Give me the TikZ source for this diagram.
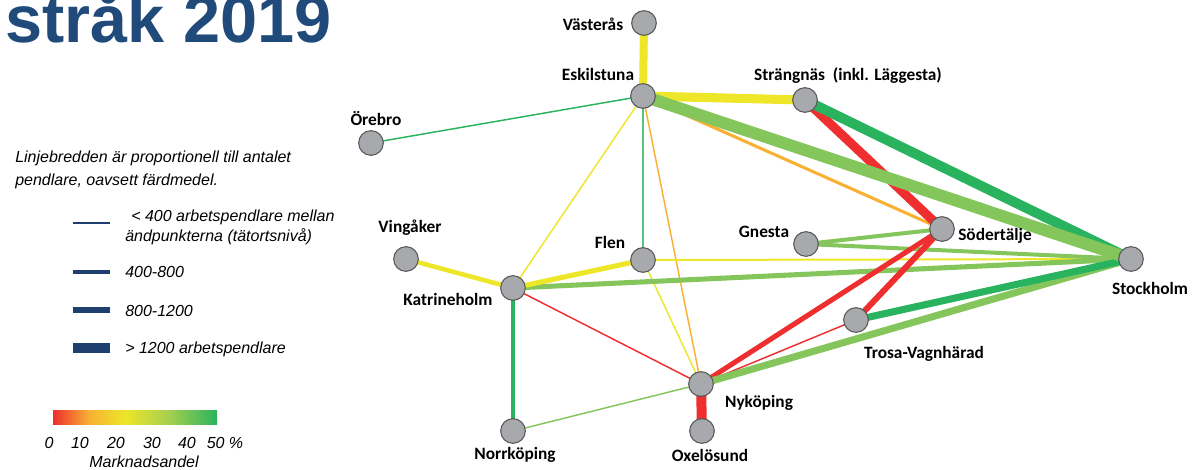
\documentclass[tikz,border=0pt]{standalone}
\usepackage{fontspec}
\setmainfont{Carlito}
\newfontfamily\arialfont{Liberation Sans}
\usetikzlibrary{backgrounds}
\definecolor{titleblue}{HTML}{1F4A7A}
\definecolor{legblue}{HTML}{1F3F6E}
\definecolor{cred}{HTML}{EE2E2F}
\definecolor{corange}{HTML}{F8B133}
\definecolor{cyellow}{HTML}{EDE629}
\definecolor{cmgreen}{HTML}{A8D04E}
\definecolor{clgreen}{HTML}{84C55C}
\definecolor{cgreen}{HTML}{2AB35E}
\definecolor{cnode}{HTML}{A7A9AC}
% TikZ fits the middle half (25bp to 75bp) of a shading to the path
\pgfdeclarehorizontalshading{andel}{100bp}{color(0bp)=(cred); color(25bp)=(cred); color(36bp)=(corange); color(47bp)=(cyellow); color(60bp)=(cmgreen); color(75bp)=(cgreen); color(100bp)=(cgreen)}

\begin{document}
\begin{tikzpicture}[x=0.75pt,y=-0.75pt,
        every node/.style={font=\bfseries\fontsize{13}{15}\selectfont},
        city/.style={circle,draw=black!65,fill=cnode,line width=0.8pt,minimum size=18.5pt,inner sep=0pt},
        legtext/.style={font=\arialfont\itshape\fontsize{12}{14}\selectfont,anchor=west,inner sep=0pt},
        scaletext/.style={font=\arialfont\itshape\fontsize{12}{14}\selectfont,inner sep=0pt}]
    \useasboundingbox (0,0) rectangle (1193,469);

    % title, cut at the top
    \node[anchor=base west,inner sep=0pt,text=titleblue,font=\arialfont\bfseries\fontsize{50}{50}\selectfont] (title) at (5,42) {stråk 2019};

    % towns
    \node[city] (vas) at (644,23) {};
    \node[city] (esk) at (643,96) {};
    \node[city] (str) at (805,100) {};
    \node[city] (ore) at (371,143) {};
    \node[city] (sod) at (942,229) {};
    \node[city] (gne) at (806,244) {};
    \node[city] (sto) at (1131,259) {};
    \node[city] (vin) at (406,259) {};
    \node[city] (fle) at (643,260) {};
    \node[city] (kat) at (513,288) {};
    \node[city] (tro) at (856,320) {};
    \node[city] (nyk) at (701,384) {};
    \node[city] (oxe) at (702,431) {};
    \node[city] (nor) at (513,431) {};

    \node (lvas) at (593,24) {Västerås};
    \node (lesk) at (598,74) {Eskilstuna};
    \node (lstr) at (848,76) {Strängnäs~ (inkl. Läggesta)};
    \node (lore) at (376,119) {Örebro};
    \node (lgne) at (764,232) {Gnesta};
    \node (lsod) at (995,236) {Södertälje};
    \node (lsto) at (1150,288) {Stockholm};
    \node (lvin) at (410,228) {Vingåker};
    \node (lfle) at (610,242) {Flen};
    \node (lkat) at (448,299) {Katrineholm};
    \node (ltro) at (924,354) {Trosa-Vagnhärad};
    \node (lnyk) at (759,403) {Nyköping};
    \node (loxe) at (710,455) {Oxelösund};
    \node (lnor) at (515,455) {Norrköping};

    % commuter links, thin ones first
    \begin{scope}[on background layer]
        \draw[cgreen, line width=1.1pt] (esk.center) -- (ore.center);
        \draw[cyellow, line width=1.1pt] (esk.center) -- (kat.center);
        \draw[cgreen!80, line width=0.9pt] (esk.center) -- (fle.center);
        \draw[corange, line width=1.1pt] (esk.center) -- (nyk.center);
        \draw[cyellow, line width=1.1pt] (fle.center) -- (nyk.center);
        \draw[cred, line width=1.1pt] (kat.center) -- (nyk.center);
        \draw[cred, line width=1.1pt] (nyk.center) -- (tro.center);
        \draw[clgreen, line width=1.1pt] (nyk.center) -- (nor.center);
        \draw[cyellow, line width=1.5pt] (fle.center) -- (sto.center);
        \draw[corange, line width=2.3pt] (esk.center) -- (sod.center);
        \draw[cgreen, line width=2.3pt] (kat.center) -- (nor.center);
        \draw[clgreen, line width=3pt] (gne.center) -- (sod.center);
        \draw[clgreen, line width=3pt] (gne.center) -- (sto.center);
        \draw[cyellow, line width=3.4pt] (vin.center) -- (kat.center);
        \draw[clgreen, line width=3.8pt] (kat.center) -- (sto.center);
        \draw[cyellow, line width=3.8pt] (kat.center) -- (fle.center);
        \draw[cred, line width=3.8pt] (nyk.center) -- (sod.center);
        \draw[cred, line width=4.5pt] (tro.center) -- (sod.center);
        \draw[clgreen, line width=5.3pt] (nyk.center) -- (sto.center);
        \draw[cgreen, line width=5.3pt] (tro.center) -- (sto.center);
        \draw[cred, line width=7.5pt] (nyk.center) -- (oxe.center);
        \draw[cyellow, line width=6pt] (vas.center) -- (esk.center);
        \draw[cyellow, line width=6.8pt] (esk.center) -- (str.center);
        \draw[cred, line width=6.8pt] (str.center) -- (sod.center);
        \draw[cgreen, line width=7.5pt] (str.center) -- (sto.center);
        \draw[clgreen, line width=9pt] (esk.center) -- (sto.center);
    \end{scope}

    % legend
    \node[legtext] (leg1) at (15,158) {Linjebredden är proportionell till antalet};
    \node[legtext] (leg2) at (15,181) {pendlare, oavsett färdmedel.};
    \draw[legblue, line width=1pt] (73,223) -- (110,223);
    \draw[legblue, line width=2.5pt] (73,272) -- (110,272);
    \draw[legblue, line width=4pt] (73,310) -- (110,310);
    \draw[legblue, line width=7.5pt] (73,348) -- (110,348);
    \node[legtext] (w1a) at (131,217) {< 400 arbetspendlare mellan};
    \node[legtext] (w1b) at (125,237) {ändpunkterna (tätortsnivå)};
    \node[legtext] (w2) at (125,272) {400-800};
    \node[legtext] (w3) at (125,311) {800-1200};
    \node[legtext] (w4) at (125,349) {> 1200 arbetspendlare};

    % market share scale
    \shade[shading=andel] (53,410) rectangle (217,424);
    \node[scaletext] (s0) at (49,443) {0};
    \node[scaletext] (s10) at (80,443) {10};
    \node[scaletext] (s20) at (116,443) {20};
    \node[scaletext] (s30) at (152,443) {30};
    \node[scaletext] (s40) at (187,443) {40};
    \node[scaletext] (s50) at (225,443) {50 \%};
    \node[scaletext] (sname) at (144,462) {Marknadsandel};
\end{tikzpicture}
\end{document}
